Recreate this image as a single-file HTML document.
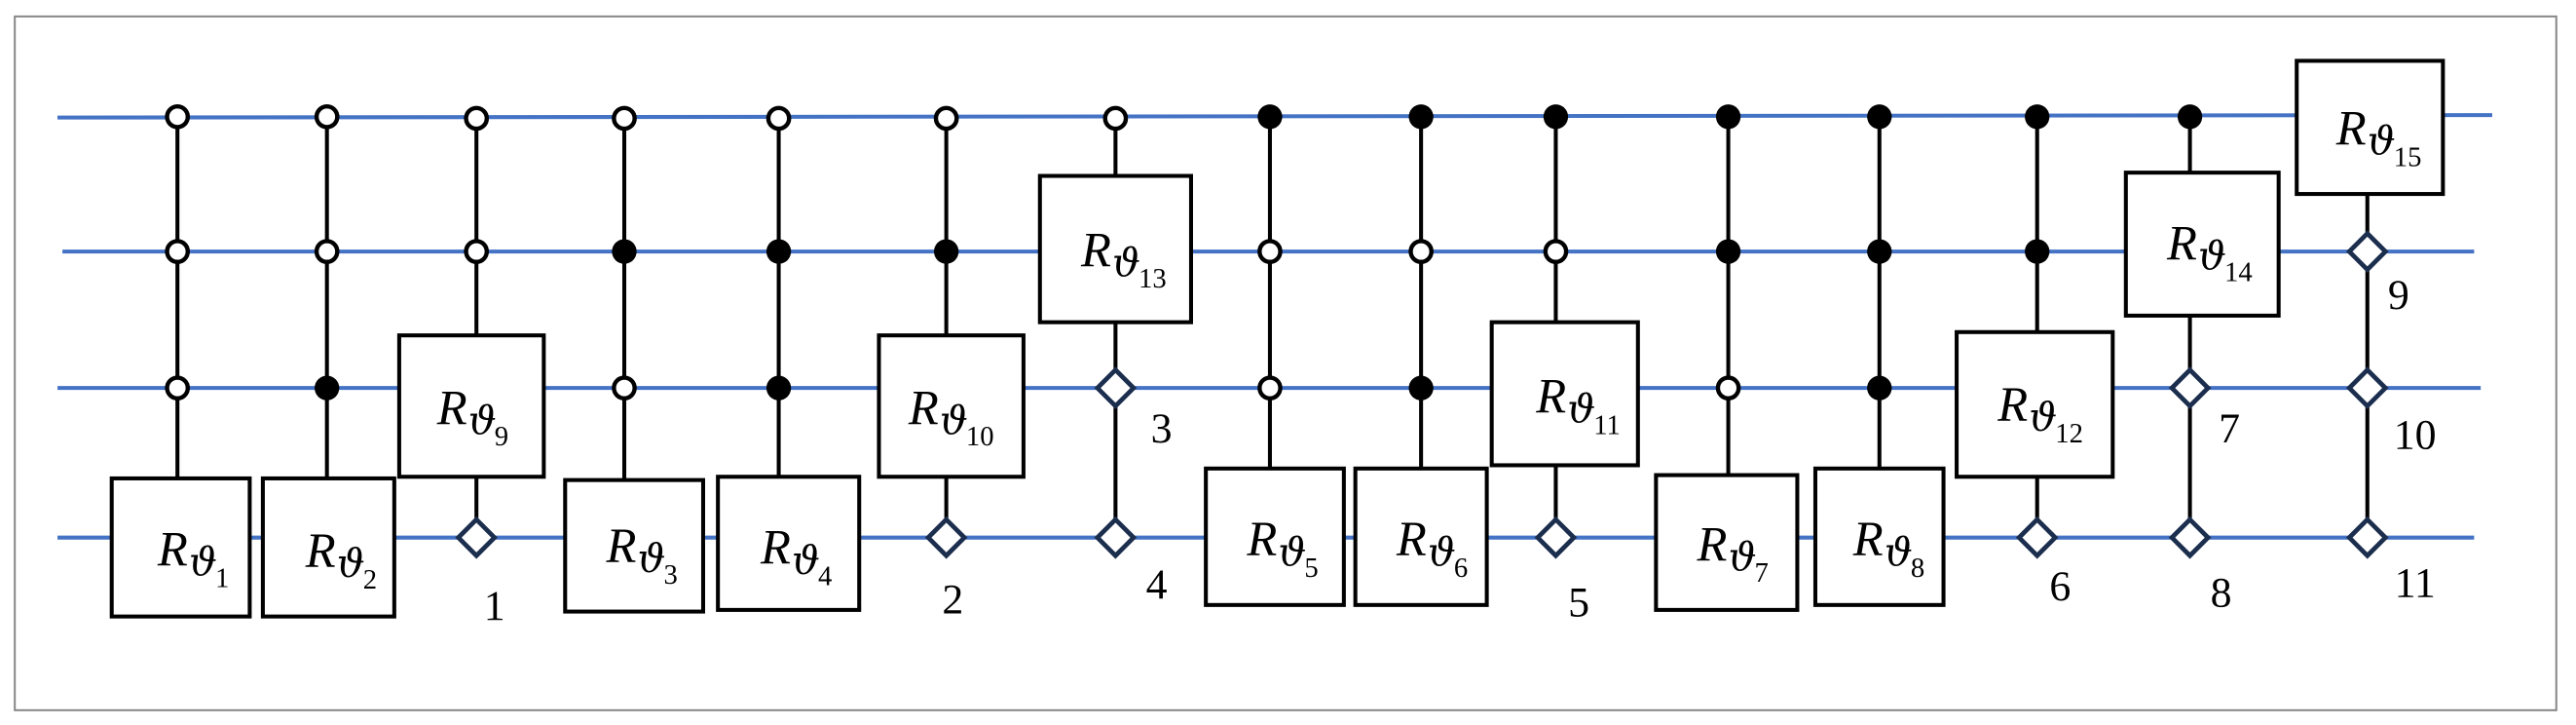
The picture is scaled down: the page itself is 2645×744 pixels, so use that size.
<!DOCTYPE html>
<html><head><meta charset="utf-8"><style>
html,body{margin:0;padding:0;background:#fff;}
svg{display:block;}
.w{stroke:#4472C4;stroke-width:2.4;fill:none}
.v{stroke:#000;stroke-width:2.4}
.b{fill:#fff;stroke:#000;stroke-width:2.4}
.o{fill:#fff;stroke:#000;stroke-width:2.6}
.f{fill:#000}
.d{fill:#fff;stroke:#1c2e4e;stroke-width:2.8}
.R{font-family:"Liberation Serif",serif;font-style:italic;font-size:30px}
.t{font-family:"DejaVu Serif",serif;font-style:italic;font-size:24px}
.s{font-family:"Liberation Serif",serif;font-size:17px}
.n{font-family:"Liberation Serif",serif;font-size:26px;text-anchor:middle}
</style></head><body>
<svg width="2645" height="744" viewBox="0 0 1568 441" preserveAspectRatio="none" xmlns="http://www.w3.org/2000/svg">
<rect x="9" y="10" width="1547" height="422" fill="#fff" stroke="#888" stroke-width="1.2"/>
<line class="w" x1="35" y1="71.5" x2="1517" y2="70"/>
<line class="w" x1="38" y1="153" x2="1506" y2="153"/>
<line class="w" x1="35" y1="236" x2="1510" y2="236"/>
<line class="w" x1="35" y1="327" x2="1506" y2="327"/>

<line class="v" x1="108" y1="71" x2="108" y2="291"/>
<line class="v" x1="199" y1="71" x2="199" y2="291"/>
<line class="v" x1="290" y1="71" x2="290" y2="327"/>
<line class="v" x1="380" y1="71" x2="380" y2="292"/>
<line class="v" x1="474" y1="71" x2="474" y2="290"/>
<line class="v" x1="576" y1="71" x2="576" y2="327"/>
<line class="v" x1="679" y1="71" x2="679" y2="327"/>
<line class="v" x1="773" y1="71" x2="773" y2="285"/>
<line class="v" x1="865" y1="71" x2="865" y2="285"/>
<line class="v" x1="947" y1="71" x2="947" y2="327"/>
<line class="v" x1="1052" y1="71" x2="1052" y2="289"/>
<line class="v" x1="1144" y1="71" x2="1144" y2="285"/>
<line class="v" x1="1240" y1="71" x2="1240" y2="327"/>
<line class="v" x1="1333" y1="71" x2="1333" y2="327"/>
<line class="v" x1="1441" y1="118" x2="1441" y2="327"/>

<rect class="b" x="68" y="291" width="84" height="84"/>
<rect class="b" x="160" y="291" width="80" height="84"/>
<rect class="b" x="243" y="204" width="88" height="86"/>
<rect class="b" x="344" y="292" width="84" height="80"/>
<rect class="b" x="437" y="290" width="86" height="81"/>
<rect class="b" x="535" y="204" width="88" height="86"/>
<rect class="b" x="633" y="107" width="92" height="89"/>
<rect class="b" x="734" y="285" width="84" height="83"/>
<rect class="b" x="825" y="285" width="80" height="83"/>
<rect class="b" x="908" y="196" width="89" height="87"/>
<rect class="b" x="1008" y="289" width="86" height="82"/>
<rect class="b" x="1105" y="285" width="78" height="83"/>
<rect class="b" x="1191" y="202" width="95" height="88"/>
<rect class="b" x="1294" y="105" width="93" height="87"/>
<rect class="b" x="1398" y="37" width="89" height="81"/>

<g class="o">
<circle cx="108" cy="71" r="6.3"/><circle cx="108" cy="153" r="6.3"/><circle cx="108" cy="236" r="6.3"/>
<circle cx="199" cy="71" r="6.3"/><circle cx="199" cy="153" r="6.3"/>
<circle cx="290" cy="72" r="6.3"/><circle cx="290" cy="153" r="6.3"/>
<circle cx="380" cy="72" r="6.3"/><circle cx="380" cy="236" r="6.3"/>
<circle cx="474" cy="72" r="6.3"/>
<circle cx="576" cy="72" r="6.3"/>
<circle cx="679" cy="72" r="6.3"/>
<circle cx="773" cy="153" r="6.3"/><circle cx="773" cy="236" r="6.3"/>
<circle cx="865" cy="153" r="6.3"/>
<circle cx="947" cy="153" r="6.3"/>
<circle cx="1052" cy="236" r="6.3"/>
</g>
<g class="f">
<circle cx="199" cy="236" r="7.5"/>
<circle cx="380" cy="153" r="7.5"/>
<circle cx="474" cy="153" r="7.5"/><circle cx="474" cy="236" r="7.5"/>
<circle cx="576" cy="153" r="7.5"/>
<circle cx="773" cy="71" r="7.5"/>
<circle cx="865" cy="71" r="7.5"/><circle cx="865" cy="236" r="7.5"/>
<circle cx="947" cy="71" r="7.5"/>
<circle cx="1052" cy="71" r="7.5"/><circle cx="1052" cy="153" r="7.5"/>
<circle cx="1144" cy="71" r="7.5"/><circle cx="1144" cy="153" r="7.5"/><circle cx="1144" cy="236" r="7.5"/>
<circle cx="1240" cy="71" r="7.5"/><circle cx="1240" cy="153" r="7.5"/>
<circle cx="1333" cy="71" r="7.5"/>
</g>

<g class="d">
<path d="M290 316 L301 327 L290 338 L279 327Z"/>
<path d="M576 316 L587 327 L576 338 L565 327Z"/>
<path d="M679 225 L690 236 L679 247 L668 236Z"/>
<path d="M679 316 L690 327 L679 338 L668 327Z"/>
<path d="M947 316 L958 327 L947 338 L936 327Z"/>
<path d="M1240 316 L1251 327 L1240 338 L1229 327Z"/>
<path d="M1333 225 L1344 236 L1333 247 L1322 236Z"/>
<path d="M1333 316 L1344 327 L1333 338 L1322 327Z"/>
<path d="M1441 142 L1452 153 L1441 164 L1430 153Z"/>
<path d="M1441 225 L1452 236 L1441 247 L1430 236Z"/>
<path d="M1441 316 L1452 327 L1441 338 L1430 327Z"/>
</g>

<g>
<text class="R" x="96" y="344">R</text><text class="t" x="115" y="350">ϑ</text><text class="s" x="131" y="357">1</text>
<text class="R" x="186" y="345">R</text><text class="t" x="205" y="351">ϑ</text><text class="s" x="221" y="358">2</text>
<text class="R" x="266" y="258">R</text><text class="t" x="285" y="264">ϑ</text><text class="s" x="301" y="271">9</text>
<text class="R" x="369" y="342">R</text><text class="t" x="388" y="348">ϑ</text><text class="s" x="404" y="355">3</text>
<text class="R" x="463" y="343">R</text><text class="t" x="482" y="349">ϑ</text><text class="s" x="498" y="356">4</text>
<text class="R" x="553" y="258">R</text><text class="t" x="572" y="264">ϑ</text><text class="s" x="588" y="271">10</text>
<text class="R" x="658" y="162">R</text><text class="t" x="677" y="168">ϑ</text><text class="s" x="693" y="175">13</text>
<text class="R" x="759" y="338">R</text><text class="t" x="778" y="344">ϑ</text><text class="s" x="794" y="351">5</text>
<text class="R" x="850" y="338">R</text><text class="t" x="869" y="344">ϑ</text><text class="s" x="885" y="351">6</text>
<text class="R" x="935" y="251">R</text><text class="t" x="954" y="257">ϑ</text><text class="s" x="970" y="264">11</text>
<text class="R" x="1033" y="341">R</text><text class="t" x="1052" y="347">ϑ</text><text class="s" x="1068" y="354">7</text>
<text class="R" x="1128" y="338">R</text><text class="t" x="1147" y="344">ϑ</text><text class="s" x="1163" y="351">8</text>
<text class="R" x="1216" y="256">R</text><text class="t" x="1235" y="262">ϑ</text><text class="s" x="1251" y="269">12</text>
<text class="R" x="1319" y="158">R</text><text class="t" x="1338" y="164">ϑ</text><text class="s" x="1354" y="171">14</text>
<text class="R" x="1422" y="88">R</text><text class="t" x="1441" y="94">ϑ</text><text class="s" x="1457" y="101">15</text>
</g>

<g class="n">
<text x="301" y="377">1</text>
<text x="580" y="373">2</text>
<text x="707" y="269">3</text>
<text x="704" y="364">4</text>
<text x="961" y="375">5</text>
<text x="1254" y="365">6</text>
<text x="1357" y="269">7</text>
<text x="1352" y="369">8</text>
<text x="1460" y="188">9</text>
<text x="1470" y="273">10</text>
<text x="1470" y="363">11</text>
</g>
</svg>
</body></html>
